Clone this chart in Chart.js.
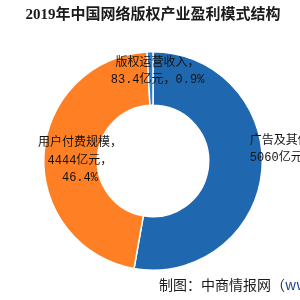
<!DOCTYPE html>
<html>
<head>
<meta charset="utf-8">
<script src="https://cdn.jsdelivr.net/npm/chart.js@4"></script>
<style>
  html, body { margin: 0; padding: 0; background: #fff; }
  #wrap { width: 300px; height: 300px; }
</style>
</head>
<body>
<div id="wrap"><canvas id="grafico"></canvas></div>
<script>
// ── DATOS ───────────────────────────────────────────
const categorias = ['广告及其他', '用户付费规模', '版权运营收入'];
const valores = [5060, 4444, 83.4];
const unidad = '亿元';
const titulo = '2019年中国网络版权产业盈利模式结构';
const fuente = '制图：中商情报网（';
const fuenteUrl = 'www.askci.com）';

const colores = ['#1f67ae', '#fe7f24', '#2a7fd0'];
const fuenteEtiqueta = "12px 'Liberation Mono', 'Noto Sans CJK SC', monospace";

const total = valores.reduce((a, b) => a + b, 0);
const pct = v => (v / total * 100).toFixed(1) + '%';

// cómo se reparte cada etiqueta en líneas y dónde se coloca respecto al arco
const disposicion = [
  { lineas: i => [categorias[i] + '，', valores[i] + unidad + '，' + pct(valores[i])], r: 0.89, dx: 0, dy: -20, align: 'left' },
  { lineas: i => [categorias[i] + '，', valores[i] + unidad + '，', pct(valores[i])], r: 0.67, dx: 0, dy: 4, align: 'center' },
  { lineas: i => [categorias[i] + '，', valores[i] + unidad + '，' + pct(valores[i])], r: 0.82, dx: 7, dy: 0, align: 'center' }
];

// ── ETIQUETAS Y PIE ─────────────────────────────────
const pluginEtiquetas = {
  id: 'etiquetas',
  afterDatasetsDraw(chart) {
    const ctx = chart.ctx;
    const meta = chart.getDatasetMeta(0);
    ctx.save();
    ctx.font = fuenteEtiqueta;
    ctx.fillStyle = '#141414';
    ctx.textBaseline = 'middle';
    meta.data.forEach((arco, i) => {
      const p = arco.getProps(['x', 'y', 'startAngle', 'endAngle', 'outerRadius'], true);
      const d = disposicion[i];
      const medio = (p.startAngle + p.endAngle) / 2;
      const px = p.x + Math.cos(medio) * p.outerRadius * d.r + d.dx;
      const py = p.y + Math.sin(medio) * p.outerRadius * d.r + d.dy;
      const lineas = d.lineas(i);
      const alto = 17.5;
      ctx.textAlign = d.align;
      lineas.forEach((t, k) => {
        ctx.fillText(t, px, py + (k - (lineas.length - 1) / 2) * alto);
      });
    });
    ctx.restore();
  },
  afterDraw(chart) {
    const ctx = chart.ctx;
    ctx.save();
    ctx.font = "14px 'Noto Sans CJK SC', sans-serif";
    ctx.textBaseline = 'middle';
    ctx.textAlign = 'left';
    ctx.fillStyle = '#1a1a1a';
    ctx.fillText(fuente, 159, 285);
    const w = ctx.measureText(fuente).width;
    ctx.fillStyle = '#1f3f8f';
    ctx.fillText(fuenteUrl, 159 + w, 285);
    ctx.restore();
  }
};

new Chart(document.getElementById('grafico'), {
  type: 'doughnut',
  data: {
    labels: categorias,
    datasets: [{
      data: valores,
      backgroundColor: colores,
      borderColor: '#ffffff',
      borderWidth: 1.5
    }]
  },
  options: {
    responsive: true,
    maintainAspectRatio: false,
    animation: false,
    cutout: '51%',
    rotation: 0,
    layout: { padding: { left: 6, right: 0, top: 0, bottom: 29 } },
    plugins: {
      legend: { display: false },
      tooltip: { enabled: false },
      title: {
        display: true,
        text: titulo,
        color: '#1a1a1a',
        font: { family: "'Liberation Serif', 'Noto Sans CJK SC', serif", size: 15, weight: 'bold' },
        padding: { top: 6, bottom: 27 }
      }
    }
  },
  plugins: [pluginEtiquetas]
});
</script>
</body>
</html>
